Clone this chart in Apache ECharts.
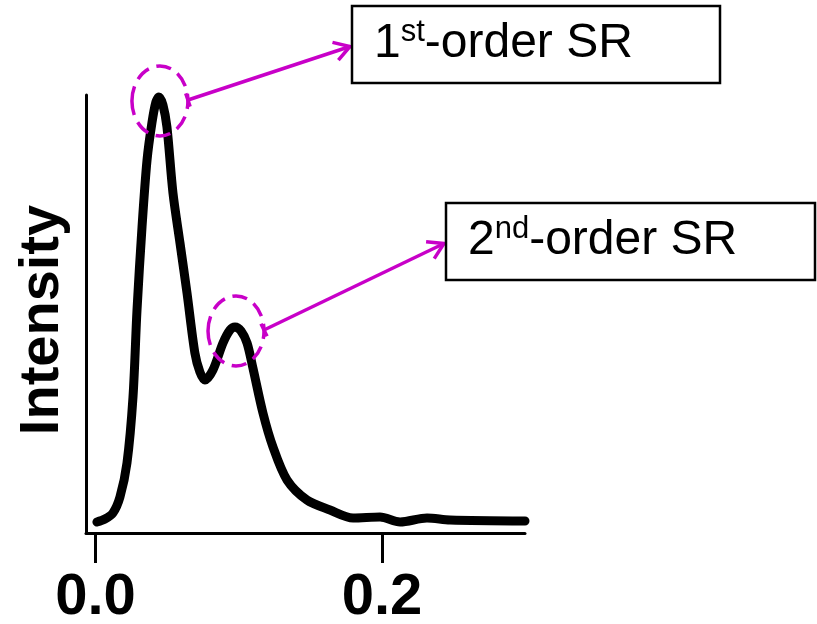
<!DOCTYPE html>
<html>
<head>
<meta charset="utf-8">
<script src="https://cdn.jsdelivr.net/npm/echarts@6/dist/echarts.min.js"></script>
<style>
html, body { margin: 0; padding: 0; background: #fff; }
#main { width: 817px; height: 624px; }
</style>
</head>
<body>
<div id="main"></div>
<script>
// spectrum
var shift = [0.0010, 0.0066, 0.0122, 0.0171, 0.0220, 0.0262, 0.0290, 0.0325, 0.0360, 0.0394,
    0.0422, 0.0443, 0.0471, 0.0499, 0.0541, 0.0590, 0.0639, 0.0694, 0.0729, 0.0764,
    0.0820, 0.0890, 0.0939, 0.0974, 0.1016, 0.1058, 0.1099, 0.1169, 0.1239, 0.1337,
    0.1476, 0.1637, 0.1798, 0.1986, 0.2126, 0.2314, 0.2475, 0.2998];
var intensity = [11, 14, 20, 36, 70, 136, 223, 306, 373, 410,
    431, 436, 428, 406, 340, 290, 240, 180, 161, 153,
    163, 190, 203, 206, 202, 190, 165, 120, 86, 53,
    33, 23, 15, 16, 11, 15, 13, 12];
var xTicks = [0, 0.2];
var peakShift = [0.0443, 0.0974];
var peakIntensity = [436, 206];
var boxOrder = ['1', '2'];
var boxSuffix = ['st', 'nd'];

var magenta = '#c800c8';
var font = '"Liberation Sans", Arial, Helvetica, sans-serif';

var dom = document.getElementById('main');
var myChart = echarts.init(dom);

var points = [];
for (var i = 0; i < shift.length; i++) {
    points.push([shift[i], intensity[i]]);
}

var option = {
    animation: false,
    backgroundColor: '#fff',
    grid: { left: 86, right: 292, top: 95, bottom: 91, outerBoundsMode: 'none' },
    xAxis: {
        type: 'value',
        min: -0.0066,
        max: 0.2998,
        axisLine: { onZero: false, lineStyle: { color: '#000', width: 3 } },
        axisTick: { customValues: xTicks, length: 30, lineStyle: { color: '#000', width: 3 } },
        axisLabel: {
            customValues: xTicks,
            margin: 36,
            color: '#000',
            fontFamily: font,
            fontWeight: 'bold',
            fontSize: 58,
            formatter: function (v) { return v.toFixed(1); }
        },
        splitLine: { show: false }
    },
    yAxis: {
        type: 'value',
        min: 0,
        max: 438,
        name: 'Intensity',
        nameLocation: 'middle',
        nameRotate: 90,
        nameGap: 15,
        nameTextStyle: { color: '#000', fontFamily: font, fontWeight: 'bold', fontSize: 56, padding: [0, 12, 0, 0] },
        axisLine: { show: true, onZero: false, lineStyle: { color: '#000', width: 3 } },
        axisTick: { show: false },
        axisLabel: { show: false },
        splitLine: { show: false }
    },
    series: [{
        type: 'line',
        data: points,
        smooth: 0.3,
        showSymbol: false,
        lineStyle: { color: '#000', width: 9, cap: 'round', join: 'round' }
    }]
};
myChart.setOption(option, true);

// annotation boxes and arrows
var boxes = [
    { x: 352, y: 6, w: 368, h: 77 },
    { x: 446, y: 203, w: 369, h: 77 }
];
var rx = 28, ry = 35;
var graphics = [];

function arrowHead(tip, from, len) {
    var a = Math.atan2(tip[1] - from[1], tip[0] - from[0]);
    var s = 0.55;
    return [
        [tip[0] - len * Math.cos(a - s), tip[1] - len * Math.sin(a - s)],
        tip,
        [tip[0] - len * Math.cos(a + s), tip[1] - len * Math.sin(a + s)]
    ];
}

for (var k = 0; k < 2; k++) {
    var p = myChart.convertToPixel({ gridIndex: 0 }, [peakShift[k], peakIntensity[k]]);
    var cx = p[0] + 1, cy = p[1] + 4;
    graphics.push({
        type: 'ellipse', z: 10,
        shape: { cx: cx, cy: cy, rx: rx, ry: ry },
        style: { fill: null, stroke: magenta, lineWidth: 3.5, lineDash: [15, 8] }
    });
    var b = boxes[k];
    var start = [cx + rx, cy - 1];
    var tip = [b.x - 2, b.y + b.h / 2 + 2];
    graphics.push({
        type: 'line', z: 10,
        shape: { x1: start[0], y1: start[1], x2: tip[0], y2: tip[1] },
        style: { stroke: magenta, lineWidth: 3.5 }
    });
    // small bar at the start of the arrow
    var ang = Math.atan2(tip[1] - start[1], tip[0] - start[0]) + Math.PI / 2;
    graphics.push({
        type: 'line', z: 10,
        shape: {
            x1: start[0] - 7 * Math.cos(ang), y1: start[1] - 7 * Math.sin(ang),
            x2: start[0] + 7 * Math.cos(ang), y2: start[1] + 7 * Math.sin(ang)
        },
        style: { stroke: magenta, lineWidth: 3.5 }
    });
    graphics.push({
        type: 'polyline', z: 10,
        shape: { points: arrowHead(tip, start, 18) },
        style: { fill: null, stroke: magenta, lineWidth: 3.5 }
    });
    graphics.push({
        type: 'rect', z: 10,
        shape: { x: b.x, y: b.y, width: b.w, height: b.h },
        style: { fill: '#fff', stroke: '#000', lineWidth: 2.5 }
    });
    graphics.push({
        type: 'text', z: 11,
        style: {
            x: b.x + 22,
            y: b.y + b.h / 2 - 1,
            text: '{n|' + boxOrder[k] + '}{sup|' + boxSuffix[k] + '}{n|-order SR}',
            verticalAlign: 'middle',
            rich: {
                n: { fontFamily: font, fontSize: 48, lineHeight: 48, verticalAlign: 'bottom', fill: '#000' },
                sup: { fontFamily: font, fontSize: 31, lineHeight: 31, verticalAlign: 'bottom', padding: [0, 0, 20, 0], fill: '#000' }
            }
        }
    });
}

myChart.setOption({ graphic: graphics });
</script>
</body>
</html>
